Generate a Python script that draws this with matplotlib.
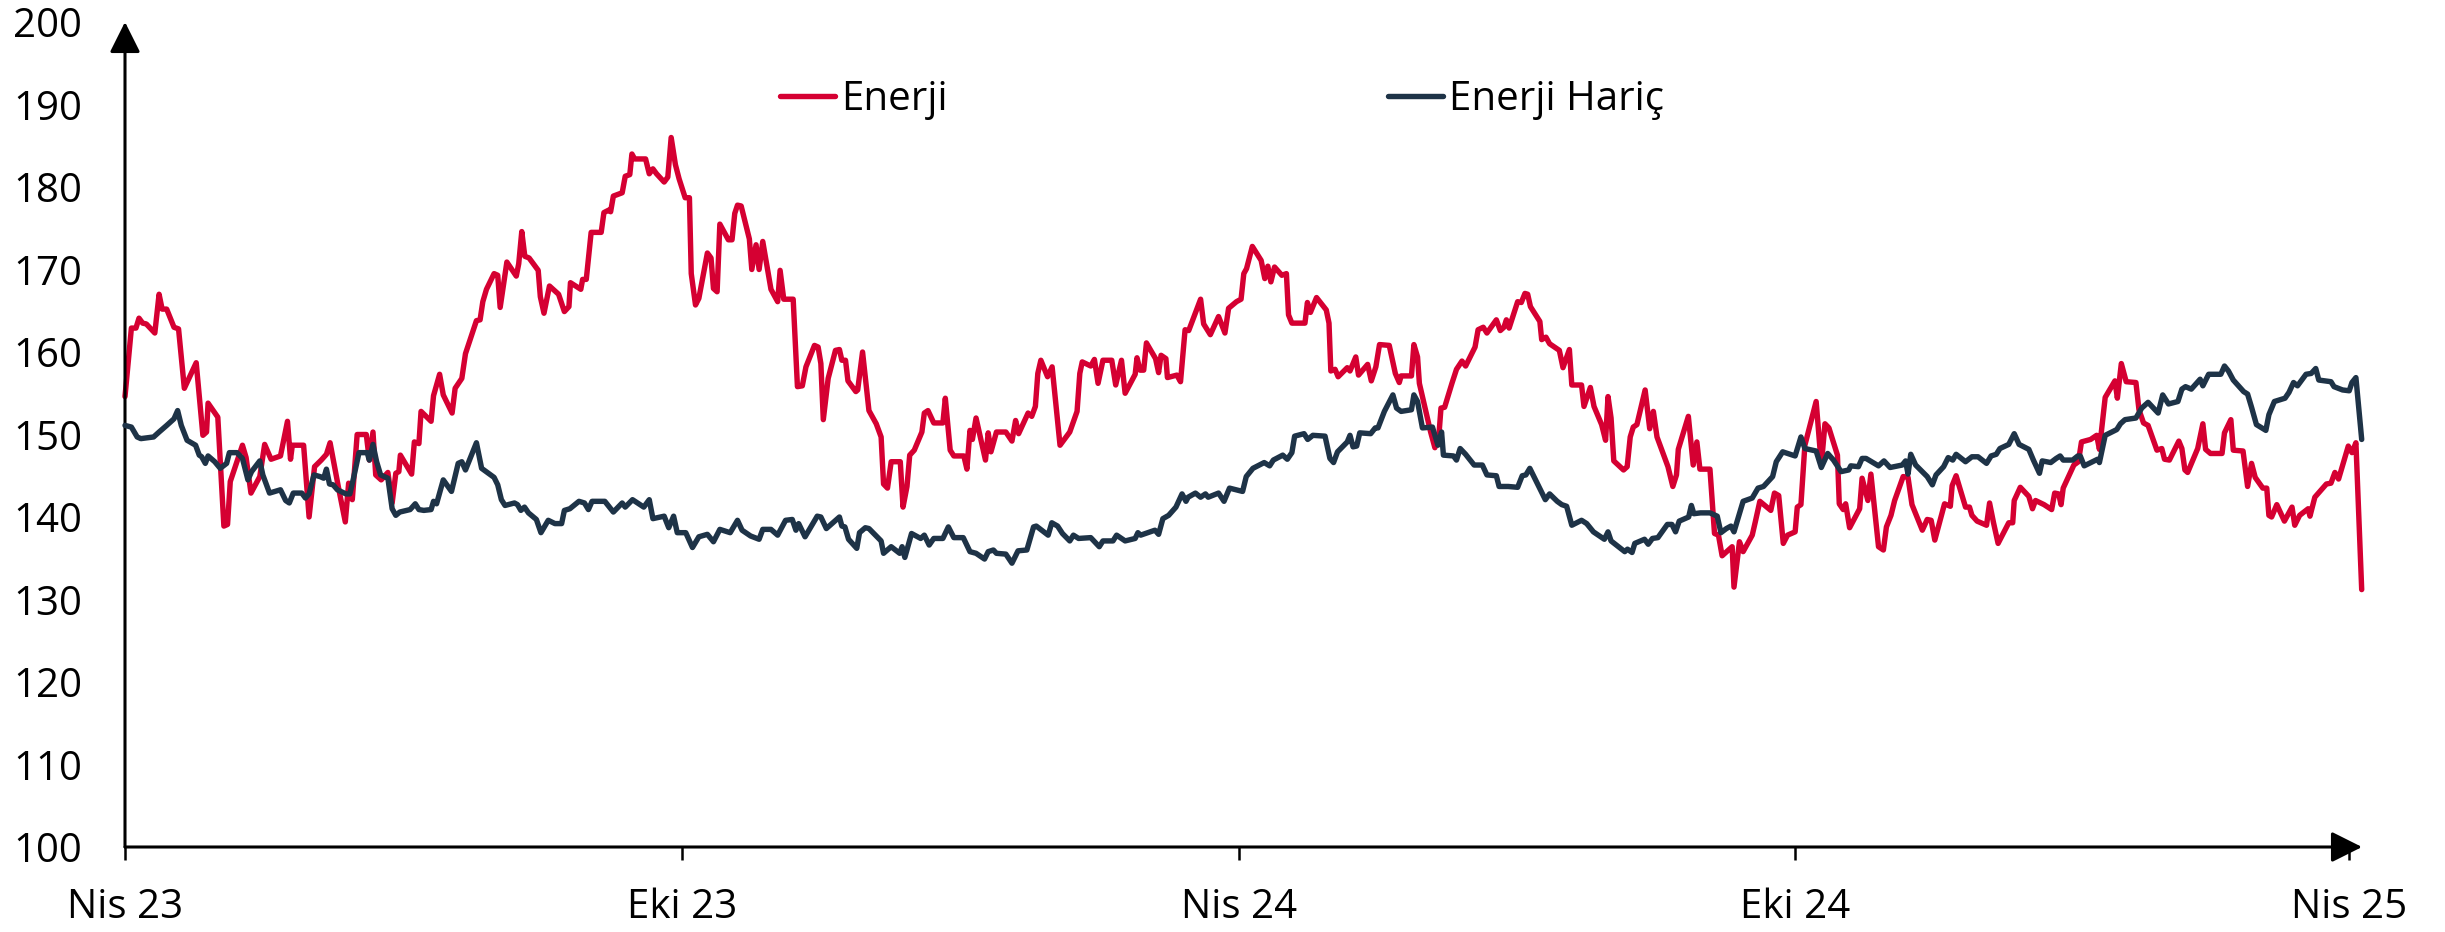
import matplotlib
matplotlib.use("Agg")
import matplotlib.pyplot as plt
import matplotlib.dates as mdates
import numpy as np
import pandas as pd

plt.rcParams['font.family'] = ['Open Sans', 'DejaVu Sans']

# ---------------- data (days since 2023-04-01, index level) ----------------
start_date = "2023-04-01"

energy_days = [
    0.0, 2.1, 3.6, 4.6, 5.8, 7.0, 9.8, 11.2, 12.2, 13.7, 16.1, 17.6, 19.5, 23.4, 25.6, 26.8, 27.3, 30.5,
    32.5, 33.7, 34.6, 38.6, 39.8, 41.4, 44.3, 45.9, 48.0, 51.1, 53.4, 54.4, 55.0, 58.7, 60.5, 62.3,
    64.5, 66.2, 67.4, 70.2, 72.4, 73.5, 74.7, 76.3, 79.3, 80.3, 81.5, 82.4, 84.2, 86.4, 87.8, 89.0,
    90.0, 90.5, 92.1, 94.2, 95.1, 96.6, 97.3, 100.6, 101.4, 103.4, 104.6, 107.5, 108.5, 110.7, 111.9,
    115.5, 116.7, 117.6, 118.8, 121.3, 122.5, 123.3, 125.5, 128.6, 129.4, 130.4, 131.4, 132.8, 135.8,
    136.5, 137.7, 139.5, 142.5, 144.4, 145.9, 146.4, 149.8, 150.4, 151.6, 153.2, 156.5, 157.4, 159.0,
    159.6, 160.5, 163.4, 164.4, 165.9, 166.6, 167.5, 171.1, 172.3, 173.5, 174.7, 177.2, 178.4, 179.5,
    180.9, 182.1, 184.1, 185.5, 186.1, 187.5, 188.6, 191.4, 192.6, 193.4, 194.6, 195.5, 198.3, 199.5,
    200.4, 201.3, 202.5, 205.2, 206.0, 207.4, 208.4, 209.6, 212.3, 214.5, 215.3, 216.5, 219.6, 221.0,
    222.6, 223.8, 226.6, 227.8, 228.7, 229.5, 231.1, 233.5, 234.8, 235.6, 236.8, 237.6, 240.2, 240.8,
    242.4, 244.5, 246.9, 248.5, 249.3, 250.6, 251.8, 254.8, 255.7, 257.0, 257.9, 259.4, 261.9, 262.7,
    263.9, 265.8, 268.8, 269.6, 271.2, 272.4, 275.7, 276.7, 277.7, 278.5, 279.7, 282.8, 283.7, 284.6,
    286.4, 289.5, 291.5, 292.7, 293.7, 296.8, 298.0, 299.2, 300.0, 301.0, 303.2, 304.7, 307.3, 310.5,
    312.9, 313.8, 314.6, 317.4, 318.6, 319.8, 321.4, 324.3, 325.6, 327.5, 328.7, 332.0, 332.6, 333.6,
    334.8, 335.7, 338.7, 339.7, 340.5, 342.1, 342.6, 345.7, 346.9, 348.4, 349.6, 353.5, 354.5, 356.7,
    359.4, 361.5, 362.7, 365.3, 366.8, 367.7, 368.6, 370.5, 373.4, 374.6, 375.6, 376.6, 377.8, 380.2,
    381.7, 382.4, 383.5, 387.8, 388.6, 389.6, 391.6, 394.8, 395.7, 396.3, 397.7, 398.7, 401.7, 402.6,
    404.5, 405.4, 408.4, 409.6, 411.1, 412.3, 415.5, 417.5, 418.8, 419.4, 422.8, 423.6, 424.8, 425.4,
    427.3, 429.1, 430.5, 431.8, 432.5, 433.7, 436.1, 437.6, 439.4, 440.6, 443.7, 444.7, 446.4, 447.6,
    450.7, 452.0, 453.2, 454.0, 454.9, 457.7, 458.9, 460.1, 461.0, 461.9, 465.0, 465.6, 467.0, 468.2,
    471.4, 472.6, 474.7, 475.5, 478.7, 479.5, 481.6, 482.8, 485.3, 486.6, 487.4, 488.4, 489.3, 492.5,
    493.7, 494.7, 495.7, 496.9, 499.6, 501.1, 502.3, 503.5, 507.1, 508.7, 509.9, 510.5, 513.8, 515.4,
    516.6, 517.6, 520.9, 522.4, 523.7, 524.9, 528.2, 528.8, 530.6, 531.8, 534.8, 535.8, 537.3, 540.9,
    542.1, 543.5, 545.0, 546.4, 548.9, 549.6, 550.8, 552.1, 555.8, 557.5, 558.7, 560.0, 562.8, 563.4,
    564.7, 565.5, 566.8, 570.1, 570.9, 572.8, 573.8, 576.3, 577.9, 578.9, 580.4, 581.6, 584.4, 586.0,
    587.3, 590.7, 592.3, 593.6, 594.8, 598.0, 599.9, 600.5, 601.8, 604.9, 606.2, 607.0, 608.7, 611.8,
    612.8, 614.1, 615.6, 619.1, 620.4, 620.9, 622.9, 625.7, 626.9, 627.9, 630.7, 633.2, 634.2, 635.5,
    636.3, 637.0, 640.5, 642.0, 643.0, 646.0, 648.0, 648.9, 650.8, 654.0, 654.8, 656.1, 657.7, 660.9,
    661.9, 663.4, 664.9, 667.8, 669.4, 670.3, 671.9, 675.0, 676.0, 677.0, 677.9, 681.2, 682.9, 683.8,
    685.4, 689.2, 690.0, 692.1, 692.9, 696.1, 697.6, 698.9, 700.1, 702.6, 703.9, 704.6, 705.5, 707.2,
    709.7, 712.2, 713.1, 714.7, 717.5, 718.1, 719.7, 723.5, 725.0, 726.3, 727.5, 730.7, 731.9, 733.2,
    735.1,
]
energy_values = [
    154.6, 162.9, 162.9, 164.1, 163.5, 163.4, 162.3, 167.0, 165.2, 165.2, 163.0, 162.8, 155.6, 158.7, 149.9, 150.3, 153.8, 152.1,
    138.9, 139.1, 144.3, 148.7, 147.2, 142.9, 144.9, 148.8, 147.0, 147.4, 151.6, 147.0, 148.7, 148.7, 140.0, 146.1,
    146.9, 147.6, 149.0, 143.5, 139.4, 144.1, 142.1, 150.0, 150.0, 146.9, 150.3, 145.1, 144.5, 145.4, 141.7, 145.3,
    145.5, 147.5, 146.5, 145.2, 149.1, 148.9, 152.8, 151.6, 154.7, 157.3, 154.8, 152.6, 155.6, 156.8, 159.8,
    163.8, 163.9, 166.1, 167.6, 169.5, 169.3, 165.4, 170.9, 169.2, 170.7, 174.6, 171.6, 171.4, 169.9,
    166.7, 164.7, 168.0, 167.0, 164.9, 165.5, 168.4, 167.6, 168.8, 168.8, 174.5, 174.5, 176.9, 177.2,
    177.0, 178.9, 179.3, 181.3, 181.5, 184.0, 183.4, 183.4, 181.6, 182.2, 181.6, 180.6, 181.2, 186.0,
    182.7, 181.0, 178.7, 178.7, 169.5, 165.7, 166.5, 172.0, 171.4, 167.7, 167.3, 175.5, 173.6, 173.6,
    176.8, 177.8, 177.7, 173.7, 170.0, 173.0, 170.0, 173.4, 167.6, 166.1, 169.9, 166.4, 166.4, 155.8,
    155.9, 158.2, 160.8, 160.6, 158.6, 151.8, 156.8, 160.2, 160.3, 159.0, 159.0, 156.5, 155.2, 155.4,
    160.0, 152.9, 151.3, 149.7, 144.0, 143.5, 146.7, 146.7, 141.2, 143.7, 147.5, 148.1, 150.3, 152.6,
    152.9, 151.4, 151.4, 154.4, 148.1, 147.4, 147.4, 145.8, 150.5, 149.4, 152.0, 146.9, 150.2, 147.9,
    150.3, 150.3, 149.2, 151.7, 150.1, 152.6, 152.2, 153.4, 157.4, 159.0, 157.0, 158.2, 148.7, 150.3,
    152.8, 157.4, 158.8, 158.3, 159.1, 156.2, 159.0, 159.0, 156.0, 159.0, 155.0, 157.3, 159.3, 157.8,
    157.8, 161.1, 159.2, 157.5, 159.6, 159.2, 156.9, 157.2, 156.4, 162.7, 162.6, 166.4, 163.4, 162.1,
    164.3, 162.3, 165.3, 166.1, 166.4, 169.5, 170.1, 172.8, 171.1, 168.9, 170.4, 168.5, 170.3, 169.3,
    169.5, 164.5, 163.5, 163.5, 166.0, 164.8, 166.6, 165.1, 163.5, 157.7, 157.9, 157.0, 158.1, 157.7,
    159.4, 157.2, 158.5, 156.5, 158.2, 160.9, 160.8, 157.4, 156.3, 157.1, 157.1, 160.9, 159.4, 156.2,
    153.2, 150.3, 148.4, 149.8, 153.2, 153.3, 156.2, 157.9, 158.9, 158.3, 160.6, 162.7, 163.0, 162.3,
    163.9, 162.6, 163.0, 163.9, 162.9, 166.1, 166.0, 167.1, 167.0, 165.5, 163.7, 161.5, 161.8, 161.0,
    160.2, 158.1, 160.3, 156.0, 156.0, 153.4, 155.7, 153.4, 151.2, 149.3, 154.6, 152.0, 146.8, 145.7,
    146.1, 149.7, 150.9, 151.2, 155.4, 150.7, 152.8, 149.7, 146.1, 143.7, 145.1, 148.2, 152.2, 146.3,
    149.1, 145.8, 145.8, 138.0, 137.8, 135.3, 136.4, 131.5, 137.0, 135.8, 137.8, 139.4, 141.9, 140.8,
    142.9, 142.6, 136.8, 137.8, 138.2, 141.2, 141.5, 148.7, 154.0, 146.3, 151.3, 150.8, 147.5, 141.6,
    140.9, 141.6, 138.7, 141.0, 144.7, 142.0, 145.2, 136.4, 136.0, 138.8, 140.2, 142.0, 144.9, 144.8,
    141.5, 138.4, 139.7, 139.6, 137.2, 141.6, 141.3, 143.8, 145.0, 141.2, 141.2, 140.2, 139.5, 139.0,
    141.7, 139.3, 136.8, 139.3, 139.3, 142.0, 143.6, 142.5, 141.0, 142.0, 141.5, 140.9, 142.9, 142.8,
    141.5, 143.5, 146.3, 146.7, 149.1, 149.4, 149.9, 148.2, 154.5, 156.5, 154.4, 158.6, 156.4, 156.3,
    153.0, 151.4, 151.1, 148.1, 148.3, 147.0, 146.9, 149.2, 148.3, 145.7, 145.4, 148.3, 151.3, 148.2,
    147.7, 147.7, 150.2, 151.8, 148.1, 148.0, 143.7, 146.5, 144.8, 143.5, 143.5, 140.2, 140.0, 141.5,
    139.5, 141.2, 139.0, 140.2, 141.0, 140.1, 142.4, 144.0, 144.1, 145.4, 144.6, 148.6, 147.8, 149.0,
    131.2,
]

ex_energy_days = [
    0.0, 2.1, 4.0, 5.2, 9.4, 11.2, 13.7, 16.1, 17.3, 18.5, 20.4, 23.2, 24.4, 25.2, 26.4, 27.3, 29.5,
    31.3, 33.4, 34.3, 36.8, 38.6, 40.4, 41.6, 44.3, 45.3, 47.5, 51.1, 52.8, 54.0, 55.3, 58.1, 59.3,
    60.5, 62.1, 64.1, 65.3, 66.2, 67.2, 68.4, 69.8, 72.6, 73.9, 75.1, 76.9, 79.6, 80.3, 81.5, 82.7,
    84.0, 86.4, 87.8, 89.0, 90.3, 93.7, 95.4, 96.6, 98.2, 100.6, 101.4, 102.4, 104.6, 107.3, 109.5,
    110.7, 111.9, 115.5, 117.2, 121.3, 122.5, 123.7, 124.9, 128.0, 129.0, 130.1, 131.3, 132.6, 135.2,
    136.7, 139.1, 141.3, 143.5, 144.4, 146.2, 149.2, 151.0, 152.3, 153.5, 157.7, 160.5, 163.4, 164.4,
    166.8, 170.5, 172.3, 173.5, 177.2, 178.7, 180.3, 181.5, 184.3, 186.5, 188.6, 191.4, 193.4, 195.5,
    198.9, 201.3, 202.8, 205.6, 208.4, 209.6, 212.3, 214.5, 217.1, 219.3, 220.5, 221.4, 223.5, 227.5,
    228.7, 230.5, 234.8, 235.6, 236.6, 237.8, 240.5, 241.4, 243.3, 244.5, 248.5, 249.3, 251.8, 254.6,
    255.4, 256.3, 258.5, 261.5, 262.7, 264.3, 265.8, 268.8, 270.6, 272.4, 275.5, 277.7, 279.7, 282.5,
    283.7, 285.4, 286.4, 289.5, 291.5, 293.5, 296.4, 298.6, 299.5, 303.4, 304.6, 306.5, 308.1, 310.5,
    311.7, 313.4, 317.4, 320.2, 321.4, 324.7, 325.9, 328.7, 332.0, 332.9, 333.8, 338.5, 339.7, 341.1,
    343.0, 345.4, 347.4, 348.7, 349.4, 351.8, 353.5, 355.1, 356.0, 359.4, 361.2, 363.0, 367.3, 368.5,
    370.7, 374.4, 376.2, 377.4, 380.5, 382.0, 383.5, 384.4, 387.5, 388.7, 390.4, 394.4, 396.0, 397.2,
    398.5, 401.7, 402.6, 403.6, 404.8, 405.8, 409.4, 410.9, 411.8, 413.9, 416.7, 417.9, 419.4, 422.8,
    423.6, 424.8, 426.4, 429.7, 431.5, 432.7, 433.3, 436.6, 437.6, 438.8, 440.6, 443.4, 446.1, 447.6,
    450.7, 451.6, 454.6, 457.7, 459.2, 460.4, 461.7, 464.1, 466.8, 468.2, 470.7, 472.2, 473.8, 475.5,
    478.7, 480.4, 482.6, 486.2, 487.4, 488.4, 492.9, 493.8, 495.3, 496.2, 499.4, 500.6, 502.0, 503.8,
    506.9, 508.4, 509.6, 510.8, 513.9, 514.8, 515.6, 517.8, 520.9, 523.3, 524.5, 526.3, 527.8, 528.8,
    531.8, 534.8, 536.7, 538.5, 541.5, 542.7, 544.8, 548.9, 550.8, 552.1, 555.8, 557.5, 559.6, 561.5,
    564.0, 566.5, 567.2, 569.7, 570.9, 572.2, 576.3, 578.1, 580.1, 584.1, 585.2, 586.0, 586.9, 588.5,
    592.3, 594.0, 595.2, 597.7, 599.2, 600.7, 601.8, 604.9, 607.0, 609.0, 611.8, 613.3, 615.0, 616.2,
    619.1, 620.9, 622.5, 625.7, 627.2, 629.2, 630.1, 632.9, 634.7, 636.0, 637.0, 640.1, 641.8, 642.6,
    643.9, 648.3, 648.9, 650.8, 654.6, 655.8, 657.3, 660.9, 662.8, 664.9, 668.2, 669.7, 671.6, 674.7,
    676.0, 677.2, 679.1, 682.0, 682.9, 684.8, 688.8, 690.0, 691.3, 692.9, 696.3, 697.6, 698.9, 700.5,
    703.6, 704.6, 706.4, 709.9, 711.2, 712.7, 714.0, 716.8, 718.5, 720.0, 721.0, 725.0, 726.0, 728.8,
    731.0, 731.9, 733.2, 735.1,
]
ex_energy_values = [
    151.1, 150.9, 149.7, 149.5, 149.7, 150.3, 151.1, 151.9, 152.9, 151.1, 149.3, 148.7, 147.5, 147.3, 146.5, 147.4, 146.7,
    145.9, 146.5, 147.8, 147.8, 147.1, 144.5, 145.5, 146.8, 145.1, 142.9, 143.3, 142.0, 141.7, 142.9, 142.9, 142.3,
    142.8, 145.1, 144.9, 144.7, 145.8, 144.0, 143.9, 143.3, 142.8, 142.8, 144.7, 147.8, 147.8, 146.9, 148.8, 146.7,
    145.1, 144.7, 141.0, 140.2, 140.6, 140.9, 141.6, 140.9, 140.8, 140.9, 141.9, 141.6, 144.5, 143.1, 146.5,
    146.7, 145.7, 149.0, 145.9, 144.8, 143.9, 142.1, 141.4, 141.7, 141.5, 140.8, 141.2, 140.5, 139.7,
    138.1, 139.6, 139.2, 139.2, 140.8, 141.0, 141.9, 141.7, 140.9, 141.9, 141.9, 140.6, 141.7, 141.2,
    142.1, 141.2, 142.1, 139.8, 140.1, 138.7, 140.1, 138.1, 138.1, 136.3, 137.6, 137.9, 137.0, 138.5,
    138.1, 139.6, 138.4, 137.7, 137.3, 138.5, 138.5, 137.8, 139.6, 139.7, 138.4, 139.2, 137.6, 140.1,
    140.0, 138.6, 140.0, 138.9, 138.8, 137.3, 136.2, 138.1, 138.7, 138.6, 137.1, 135.6, 136.4, 135.6,
    136.4, 135.1, 138.0, 137.4, 137.8, 136.6, 137.4, 137.4, 138.8, 137.5, 137.5, 135.8, 135.6, 134.9,
    135.8, 136.0, 135.6, 135.5, 134.4, 135.9, 136.0, 138.8, 138.9, 137.8, 139.3, 138.9, 138.0, 137.1,
    137.8, 137.4, 137.5, 136.4, 137.1, 137.1, 137.8, 137.1, 137.4, 138.1, 137.8, 138.4, 137.9, 139.8,
    140.2, 141.2, 142.8, 141.9, 142.4, 142.9, 142.4, 142.8, 142.4, 142.9, 141.9, 143.5, 143.1, 144.9,
    145.9, 146.6, 146.2, 146.9, 147.5, 147.0, 147.8, 149.8, 150.1, 149.4, 149.9, 149.8, 147.1, 146.6,
    147.9, 149.1, 149.9, 148.5, 148.6, 150.2, 150.1, 150.8, 150.8, 152.8, 154.8, 153.2, 152.8, 153.0,
    154.8, 154.0, 150.8, 150.9, 148.7, 150.3, 147.5, 147.4, 146.9, 148.3, 147.6, 146.3, 146.3, 145.1,
    145.0, 143.7, 143.7, 143.6, 145.0, 145.1, 145.9, 144.1, 142.1, 142.8, 141.9, 141.5, 141.3, 139.0,
    139.6, 139.2, 138.2, 137.3, 138.2, 137.1, 135.8, 136.1, 135.7, 136.8, 137.3, 136.7, 137.4, 137.5,
    139.1, 139.1, 138.2, 139.5, 140.0, 141.4, 140.4, 140.5, 140.5, 140.1, 138.1, 138.6, 138.9, 138.2,
    141.9, 142.3, 143.5, 143.7, 144.9, 146.7, 147.9, 147.4, 149.7, 148.3, 148.0, 146.0, 147.7, 146.9,
    145.5, 145.7, 146.2, 146.1, 147.1, 147.1, 146.2, 146.8, 146.0, 146.3, 146.8, 145.2, 147.6, 146.3,
    144.9, 143.9, 145.1, 146.1, 147.2, 146.9, 147.6, 146.7, 147.3, 147.3, 146.5, 147.4, 147.6, 148.3,
    148.8, 150.1, 148.8, 148.2, 146.9, 145.3, 146.8, 146.6, 147.1, 147.4, 146.9, 146.9, 147.4, 147.4,
    146.2, 147.0, 146.6, 149.9, 150.6, 151.3, 151.8, 152.0, 153.2, 153.9, 152.6, 154.8, 153.7, 154.0,
    155.5, 155.8, 155.5, 156.7, 155.9, 157.3, 157.3, 158.3, 157.7, 156.6, 155.2, 154.9, 153.3, 151.2,
    150.5, 152.4, 154.0, 154.4, 155.1, 156.3, 155.9, 157.3, 157.4, 158.0, 156.6, 156.4, 155.8, 155.4,
    155.3, 156.3, 156.9, 149.4,
]

series_names = ["Enerji", "Enerji Hariç"]
series_colors = ["#D50032", "#1E3347"]

tick_dates = ["2023-04-01", "2023-10-01", "2024-04-01", "2024-10-01", "2025-04-01"]
tick_labels = ["Nis 23", "Eki 23", "Nis 24", "Eki 24", "Nis 25"]
y_ticks = list(range(100, 201, 10))

# ---------------- figure ----------------
W, H = 2445, 932
fig = plt.figure(figsize=(W / 100, H / 100), dpi=100)
ax = fig.add_axes([125 / W, 1 - 847 / H, (2362 - 125) / W, (847 - 22) / H])

t0 = pd.Timestamp(start_date)
x_energy = mdates.date2num(t0) + np.array(energy_days)
x_ex = mdates.date2num(t0) + np.array(ex_energy_days)

l1, = ax.plot(x_energy, energy_values, color=series_colors[0], lw=3.9,
              solid_joinstyle="round", solid_capstyle="round", clip_on=False, zorder=3)
l2, = ax.plot(x_ex, ex_energy_values, color=series_colors[1], lw=3.9,
              solid_joinstyle="round", solid_capstyle="round", clip_on=False, zorder=4)

ax.set_xlim(mdates.date2num(t0), mdates.date2num(t0) + 735.2)
ax.set_ylim(100, 200)

for s in ax.spines.values():
    s.set_visible(False)

ax.set_yticks(y_ticks)
ax.set_xticks([mdates.date2num(pd.Timestamp(d)) for d in tick_dates])
ax.set_xticklabels(tick_labels)
ax.tick_params(axis="y", length=0, pad=31, labelsize=29)
ax.tick_params(axis="x", length=9.5, width=1.8, direction="out", pad=20, labelsize=29, color="black")

# axis lines with arrow heads
arrow_kw = dict(arrowstyle="-|>,head_length=0.94,head_width=0.47", color="black",
                lw=2.2, mutation_scale=20, shrinkA=0, shrinkB=0)
ax.annotate("", xy=(1, 0), xytext=(0, 0), xycoords="axes fraction", arrowprops=arrow_kw,
            annotation_clip=False)
ax.annotate("", xy=(0, 1), xytext=(0, 0), xycoords="axes fraction", arrowprops=arrow_kw,
            annotation_clip=False)

# legends
leg_kw = dict(frameon=False, fontsize=29, handlelength=1.37, handletextpad=0.15,
              borderpad=0, borderaxespad=0, loc="center left")
leg1 = fig.legend([l1], [series_names[0]], bbox_to_anchor=(780 / W, 1 - 100 / H), **leg_kw)
leg2 = fig.legend([l2], [series_names[1]], bbox_to_anchor=(1388 / W, 1 - 100 / H), **leg_kw)

fig.savefig("out.png", dpi=100)
